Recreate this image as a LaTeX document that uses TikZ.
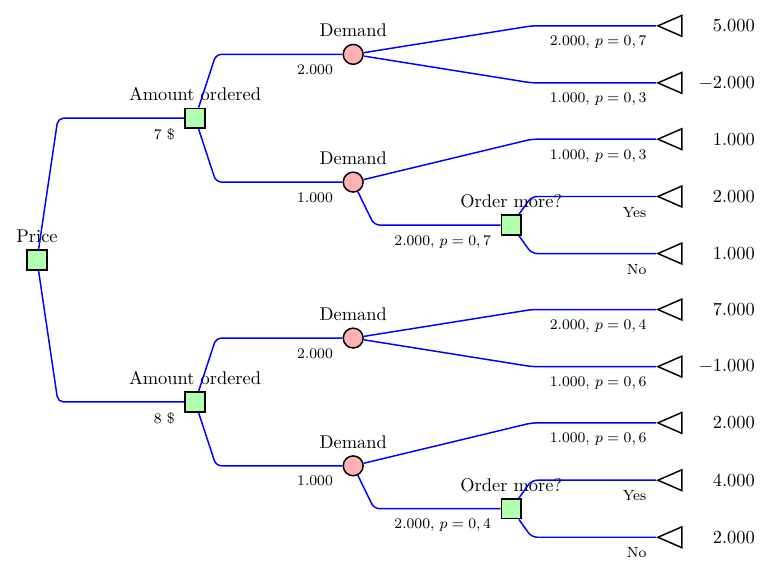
\documentclass[tikz,border=0pt]{standalone}
\usepackage{xcolor}
\usepackage{tikz}
\usetikzlibrary{shapes.geometric, positioning, calc}

\begin{document}
\begin{tikzpicture}[
    node distance=3.02cm, on grid,
    decision/.style={
        draw, thick, fill=green!30,
        rectangle, minimum size=0.38cm, inner sep=0pt,
        label=above:#1,
    },
    chance/.style={
        draw, thick, fill=red!30,
        circle, minimum size=0.38cm, inner sep=0pt,
        label=above:#1,
    },
    leaf/.style={
        draw, thick, fill=white,
        isosceles triangle, isosceles triangle stretches,
        shape border rotate=180,
        minimum width=0.40cm, minimum height=0.46cm, inner sep=0pt,
    },
    payoff/.style={anchor=east, inner sep=0pt},
    branch/.style={
        draw=blue, thick, rounded corners=3pt,
        to path={-- ($(\tikztotarget)+(-#1,0)$) -- (\tikztotarget) \tikztonodes},
    },
    branch/.default=2.62cm,
    elab/.style={
        pos=1, anchor=north east, font=\footnotesize,
        xshift=-1.5pt, yshift=-2pt,
    },
]
\useasboundingbox (0,0) rectangle (14.71,10.89);

% decision on price
\node[decision=Price] (price) at (0.707,5.921) {};
\node[decision=Amount ordered, above right=2.71cm and 3.02cm of price] (amt7) {};
\node[decision=Amount ordered, below right=2.71cm and 3.02cm of price] (amt8) {};

% demand for 7 $
\node[chance=Demand, above right=1.22cm and 3.02cm of amt7] (dem7hi) {};
\node[chance=Demand, below right=1.22cm and 3.02cm of amt7] (dem7lo) {};
\node[decision=Order more?, below right=0.82cm and 3.02cm of dem7lo] (more7) {};

% demand for 8 $
\node[chance=Demand, above right=1.22cm and 3.02cm of amt8] (dem8hi) {};
\node[chance=Demand, below right=1.22cm and 3.02cm of amt8] (dem8lo) {};
\node[decision=Order more?, below right=0.82cm and 3.02cm of dem8lo] (more8) {};

% outcomes
\node[leaf, above right=0.545cm and 6.15cm of dem7hi] (t1) {};
\node[leaf, below right=0.545cm and 6.15cm of dem7hi] (t2) {};
\node[leaf, above right=0.82cm and 6.15cm of dem7lo] (t3) {};
\node[leaf, above right=0.545cm and 3.13cm of more7] (t4) {};
\node[leaf, below right=0.545cm and 3.13cm of more7] (t5) {};
\node[leaf, above right=0.545cm and 6.15cm of dem8hi] (t6) {};
\node[leaf, below right=0.545cm and 6.15cm of dem8hi] (t7) {};
\node[leaf, above right=0.82cm and 6.15cm of dem8lo] (t8) {};
\node[leaf, above right=0.545cm and 3.13cm of more8] (t9) {};
\node[leaf, below right=0.545cm and 3.13cm of more8] (t10) {};

\node[right=1.53cm of t1, payoff] (v1) {$5.000$};
\node[right=1.53cm of t2, payoff] (v2) {$-2.000$};
\node[right=1.53cm of t3, payoff] (v3) {$1.000$};
\node[right=1.53cm of t4, payoff] (v4) {$2.000$};
\node[right=1.53cm of t5, payoff] (v5) {$1.000$};
\node[right=1.53cm of t6, payoff] (v6) {$7.000$};
\node[right=1.53cm of t7, payoff] (v7) {$-1.000$};
\node[right=1.53cm of t8, payoff] (v8) {$2.000$};
\node[right=1.53cm of t9, payoff] (v9) {$4.000$};
\node[right=1.53cm of t10, payoff] (v10) {$2.000$};

% branches
\draw (price) edge[branch] node[elab] {$7$ \$} (amt7)
              edge[branch] node[elab] {$8$ \$} (amt8);
\draw (amt7) edge[branch] node[elab] {$2.000$} (dem7hi)
             edge[branch] node[elab] {$1.000$} (dem7lo);
\draw (amt8) edge[branch] node[elab] {$2.000$} (dem8hi)
             edge[branch] node[elab] {$1.000$} (dem8lo);
\draw (dem7hi) edge[branch=2.74cm] node[elab] {$2.000$, $p=0,7$} (t1)
               edge[branch=2.74cm] node[elab] {$1.000$, $p=0,3$} (t2);
\draw (dem7lo) edge[branch=2.74cm] node[elab] {$1.000$, $p=0,3$} (t3)
               edge[branch] node[elab] {$2.000$, $p=0,7$} (more7);
\draw (more7) edge[branch=2.74cm] node[elab] {Yes} (t4)
              edge[branch=2.74cm] node[elab] {No} (t5);
\draw (dem8hi) edge[branch=2.74cm] node[elab] {$2.000$, $p=0,4$} (t6)
               edge[branch=2.74cm] node[elab] {$1.000$, $p=0,6$} (t7);
\draw (dem8lo) edge[branch=2.74cm] node[elab] {$1.000$, $p=0,6$} (t8)
               edge[branch] node[elab] {$2.000$, $p=0,4$} (more8);
\draw (more8) edge[branch=2.74cm] node[elab] {Yes} (t9)
              edge[branch=2.74cm] node[elab] {No} (t10);
\end{tikzpicture}
\end{document}
